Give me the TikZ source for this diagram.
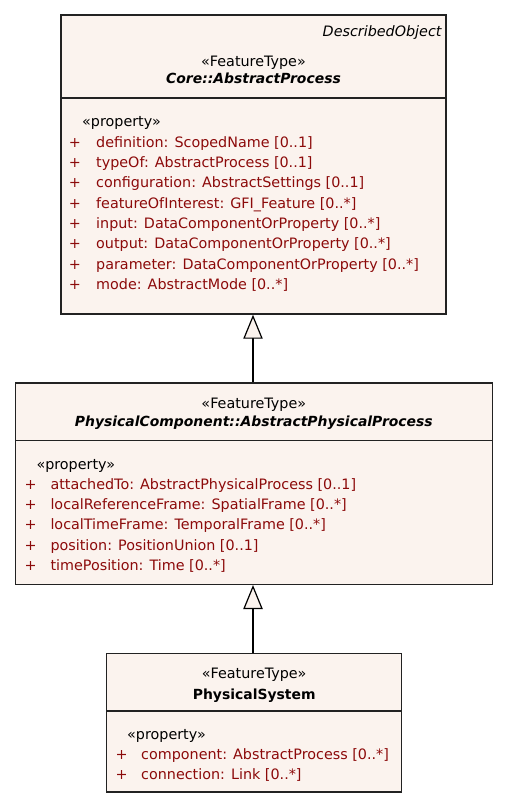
\documentclass[tikz,border=0pt]{standalone}
\usepackage{fontspec}
\setmainfont{DejaVu Sans}
\usetikzlibrary{arrows.meta,fit}

\definecolor{boxfill}{RGB}{251,243,238}
\definecolor{boxline}{RGB}{34,34,34}
\definecolor{attrred}{RGB}{140,10,10}

\tikzset{every picture/.style={line width=0.75pt}}
\tikzset{
  classbox/.style={draw=boxline, fill=boxfill, line width=1.1pt, inner sep=0pt},
  divider/.style={draw=boxline, line width=1.1pt},
  txt/.style={inner sep=0pt, font=\fontsize{10.75}{13}\selectfont},
  stereo/.style={txt, anchor=base},
  clsname/.style={txt, anchor=base, font=\fontsize{10.45}{13}\selectfont\bfseries},
  prop/.style={txt, anchor=base west},
  attr/.style={txt, anchor=base west, text=attrred},
  gen/.style={draw=black, line width=0.9pt, -{Triangle[length=18pt, width=14.5pt, fill=boxfill]}}
}

\begin{document}
\begin{tikzpicture}[x=0.75pt,y=0.75pt,yscale=-1,xscale=1]
\useasboundingbox (0,0) rectangle (508,808);

%Shape: Class Core::AbstractProcess
\node[classbox, fit={(61,15) (446,314)}] (core) {};
\draw[divider] (61,98) -- (446,98);
%Shape: Class PhysicalComponent::AbstractPhysicalProcess
\node[classbox, fit={(15.3,383) (492.3,584.3)}] (phys) {};
\draw[divider] (15.3,440.7) -- (492.3,440.7);
%Shape: Class PhysicalSystem
\node[classbox, fit={(106.7,653.3) (401.7,792)}] (sys) {};
\draw[divider] (106.7,711) -- (401.7,711);

%Generalization
\draw[gen] (phys.north -| 253,0) -- (core.south -| 253,0);
\draw[gen] (sys.north -| 253,0) -- (phys.south -| 253,0);

% Text Node
\node[txt, anchor=base east, font=\fontsize{10.75}{13}\selectfont\itshape] (coretag) at (442,36) {DescribedObject};
% Text Node
\node[stereo] (coreft) at (253.5,66) {«FeatureType»};
% Text Node
\node[clsname, font=\fontsize{10.45}{13}\selectfont\bfseries\itshape] (corenm) at (253.5,83.3) {Core::AbstractProcess};
% Text Node
\node[prop] (coreprop) at (81.7,126.7) {«property»};
% Text Nodes
\foreach \t [count=\i] in {definition: ScopedName [0..1],
    typeOf: AbstractProcess [0..1],
    configuration: AbstractSettings [0..1],
    featureOfInterest: GFI\_Feature [0..*],
    input: DataComponentOrProperty [0..*],
    output: DataComponentOrProperty [0..*],
    parameter: DataComponentOrProperty [0..*],
    mode: AbstractMode [0..*]}{
  \node[attr] (corep\i) at (68.3,126.7+20.33*\i) {+};
  \node[attr] (corea\i) at (95.7,126.7+20.33*\i) {\t};
}

% Text Node
\node[stereo] (physft) at (253.8,408.3) {«FeatureType»};
% Text Node
\node[clsname, font=\fontsize{10.45}{13}\selectfont\bfseries\itshape] (physnm) at (253.8,426.7) {PhysicalComponent::AbstractPhysicalProcess};
% Text Node
\node[prop] (physprop) at (36,469) {«property»};
% Text Nodes
\foreach \t [count=\i] in {attachedTo: AbstractPhysicalProcess [0..1],
    localReferenceFrame: SpatialFrame [0..*],
    localTimeFrame: TemporalFrame [0..*],
    position: PositionUnion [0..1],
    timePosition: Time [0..*]}{
  \node[attr] (physp\i) at (24,469+20.33*\i) {+};
  \node[attr] (physa\i) at (50,469+20.33*\i) {\t};
}

% Text Node
\node[stereo] (sysft) at (254.2,678.3) {«FeatureType»};
% Text Node
\node[clsname] (sysnm) at (254.2,699) {PhysicalSystem};
% Text Node
\node[prop] (sysprop) at (126.7,739.3) {«property»};
% Text Nodes
\foreach \t [count=\i] in {component: AbstractProcess [0..*],
    connection: Link [0..*]}{
  \node[attr] (sysp\i) at (115,739.3+20.33*\i) {+};
  \node[attr] (sysa\i) at (140.7,739.3+20.33*\i) {\t};
}

\end{tikzpicture}
\end{document}
